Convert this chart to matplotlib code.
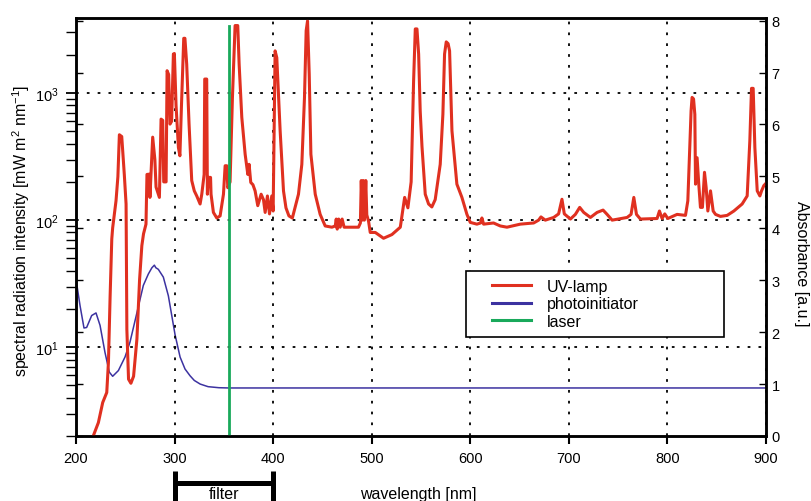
import numpy as np
import matplotlib
matplotlib.use("Agg")
import matplotlib.pyplot as plt
import matplotlib.transforms as mtransforms
from matplotlib.lines import Line2D
from matplotlib.legend_handler import HandlerLine2D
from matplotlib.ticker import MultipleLocator, LogLocator, NullFormatter, FuncFormatter

plt.rcParams['font.family'] = ['Liberation Sans', 'DejaVu Sans']
plt.rcParams['mathtext.fontset'] = 'custom'
plt.rcParams['mathtext.rm'] = 'Liberation Sans'

# data
# UV lamp spectrum: (wavelength nm, intensity mW m^2 nm^-1)
uv_lamp = [
    (217.5, 2.0), (222.7, 2.55), (227.1, 3.67), (231.2, 4.4), (232.9, 7.6),
    (234.6, 25), (236.3, 71), (237.2, 87), (240.6, 142), (242.5, 220),
    (244.0, 470), (246.4, 455), (249.0, 229), (250.8, 134), (251.6, 13.8),
    (253.3, 5.6), (255.7, 5.2), (258.4, 5.9), (261.8, 11.6), (264.5, 34),
    (266.8, 63), (268.5, 78), (271.0, 93), (272.0, 229), (274.4, 230),
    (275.0, 151), (277.8, 450), (280.0, 300), (281.2, 182), (284.6, 151),
    (286.3, 624), (288.0, 610), (289.0, 200), (291.4, 200), (292.4, 1500),
    (294.0, 1400), (295.4, 570), (297.0, 600), (298.8, 2030), (299.8, 2050),
    (301.5, 800), (303.9, 373), (305.4, 321), (307.0, 800), (309.3, 2700),
    (310.5, 2700), (312.3, 1690), (314.7, 570), (317.4, 205), (320.0, 170),
    (322.5, 155), (325.9, 134), (327.6, 160), (330.0, 229), (330.6, 1290),
    (332.6, 1290), (333.3, 160), (334.3, 217), (336.5, 217), (337.0, 160),
    (339.4, 115), (342.8, 104), (346.2, 108), (349.6, 160), (351.3, 268),
    (353.0, 268), (354.0, 180), (356.3, 200), (358.7, 925), (361.4, 3400),
    (364.1, 3400), (365.5, 1690), (368.2, 644), (371.6, 330), (374.3, 229),
    (375.6, 275), (377.3, 198), (379.5, 190), (381.7, 170), (384.4, 130),
    (387.8, 160), (390.2, 145), (391.9, 115), (394.2, 155), (396.3, 112),
    (398.6, 155), (400.0, 118), (402.0, 2150), (403.7, 1900), (407.1, 505),
    (410.5, 170), (413.0, 125), (416.0, 108), (419.5, 104), (425.7, 160),
    (429.1, 275), (431.8, 925), (433.5, 3100), (434.9, 3700), (436.6, 1410),
    (438.3, 330), (442.7, 160), (447.7, 111), (452.8, 90), (459.6, 88),
    (463.0, 90), (464.0, 102), (465.0, 85), (466.5, 102), (468.0, 88),
    (470.0, 102), (472.0, 88), (480.0, 88), (486.6, 88), (488.5, 95),
    (489.4, 205), (490.5, 100), (491.5, 205), (492.5, 100), (494.0, 205),
    (495.0, 110), (496.8, 98), (498.5, 80), (503.6, 80), (512.0, 72),
    (520.5, 77), (529.0, 88), (533.4, 151), (536.7, 125), (540.0, 200),
    (542.5, 1250), (544.2, 3200), (545.9, 3200), (547.6, 2030), (549.2, 720),
    (551.0, 380), (554.3, 160), (557.7, 134), (561.0, 127), (564.4, 145),
    (569.5, 275), (572.2, 680), (573.9, 2030), (575.6, 2530), (577.5, 2450),
    (579.0, 2150), (581.4, 505), (586.4, 192), (591.5, 151), (596.6, 111),
    (600.0, 96), (606.7, 93), (610.5, 95), (611.8, 104), (613.5, 93),
    (623.6, 95), (630.4, 90), (637.2, 88), (650.7, 93), (664.3, 95),
    (669.3, 100), (671.7, 106), (676.1, 100), (684.6, 105), (689.6, 112),
    (693.0, 146), (695.4, 112), (701.6, 102), (706.6, 111), (711.0, 126),
    (715.1, 115), (721.9, 105), (728.6, 115), (734.7, 120), (738.8, 111),
    (743.9, 100), (759.1, 105), (763.1, 111), (765.9, 151), (768.6, 111),
    (772.6, 102), (789.5, 103), (791.9, 118), (794.6, 103), (797.3, 112),
    (800.4, 103), (809.8, 111), (818.3, 109), (820.7, 142), (822.7, 373),
    (824.0, 725), (825.0, 925), (826.5, 900), (827.8, 680), (828.5, 192),
    (830.1, 310), (831.8, 192), (833.5, 126), (835.5, 126), (837.6, 238),
    (839.3, 180), (841.0, 118), (843.7, 170), (846.4, 118), (848.8, 111),
    (853.8, 107), (860.6, 109), (867.4, 118), (875.8, 134), (880.9, 155),
    (883.6, 422), (885.3, 1090), (887.0, 1090), (888.7, 373), (891.1, 170),
    (893.8, 155), (895.5, 170), (897.8, 187), (900.0, 195),
]

# photoinitiator absorbance: (wavelength nm, absorbance a.u.)
photoinitiator = [
    (200.0, 3.02), (204.1, 2.51), (208.1, 2.08), (210.8, 2.09), (215.9, 2.32),
    (220.3, 2.37), (224.4, 2.13), (229.4, 1.61), (233.8, 1.23), (237.2, 1.15),
    (243.0, 1.26), (249.7, 1.52), (254.8, 1.81), (261.5, 2.35), (268.3, 2.90),
    (273.4, 3.12), (277.0, 3.24), (279.5, 3.29), (281.0, 3.24), (283.5, 3.21),
    (288.6, 3.06), (293.7, 2.70), (300.5, 1.95), (305.6, 1.52), (310.6, 1.29),
    (315.7, 1.16), (320.0, 1.07), (326.0, 1.00), (334.0, 0.95), (345.0, 0.93),
    (355.0, 0.925), (900.0, 0.925),
]

laser_nm = 355
laser_int = [2.07, 3400]
filter_nm = [300, 400]

lamp_nm, lamp_int = zip(*uv_lamp)
pi_nm, pi_abs = zip(*photoinitiator)

red = '#e03020'
blue = '#3c32a0'
green = '#19a95b'

fig = plt.figure(figsize=(8.11, 5.02), dpi=100)
ax = fig.add_axes([76 / 811, 65 / 502, 690 / 811, 418 / 502])
ax2 = ax.twinx()
ax.set_zorder(ax2.get_zorder() + 1)
ax.patch.set_visible(False)

# curves
ax2.plot(pi_nm, pi_abs, color=blue, lw=1.1)
ax.plot(lamp_nm, lamp_int, color=red, lw=2.2)
ax.plot([laser_nm, laser_nm], laser_int, color=green, lw=2.0)

# left axis (log)
ax.set_yscale('log')
ax.set_ylim(2, 3900)
ax.set_xlim(200, 900)
ax.xaxis.set_major_locator(MultipleLocator(100))
ax.yaxis.set_major_locator(LogLocator(base=10, numticks=10))
ax.yaxis.set_minor_locator(LogLocator(base=10, subs=np.arange(2, 10), numticks=20))
ax.yaxis.set_minor_formatter(NullFormatter())
ax.yaxis.set_major_formatter(FuncFormatter(
    lambda v, p: r'$\mathregular{10^{%d}}$' % round(np.log10(v))))
ax.tick_params(axis='y', which='major', direction='out', length=7.5, width=1.3,
               labelsize=10.5, pad=5)
ax.tick_params(axis='y', which='minor', direction='out', length=7, width=1)
ax.tick_params(axis='x', direction='out', length=6, width=1.5, labelsize=10.5,
               pad=5, top=False)
ax.grid(True, which='major', color='black', linestyle=(0, (1.5, 4.5)), lw=1.3)

# right axis (absorbance)
ax2.set_ylim(0, 8.05)
ax2.yaxis.set_major_locator(MultipleLocator(1))
ax2.tick_params(axis='y', direction='in', left=True, right=True, labelleft=False,
                labelright=True, length=5, width=1, labelsize=10.5, pad=4)

for a in (ax, ax2):
    for s in a.spines.values():
        s.set_linewidth(1.8)

# labels
fig.text(21.5 / 811, 1 - 231 / 502,
         r'spectral radiation intensity [mW m$^{\mathregular{2}}$ nm$^{\mathregular{-1}}$]',
         rotation=90, ha='center', va='center', fontsize=11.5)
fig.text(801 / 811, 1 - 264 / 502, 'Absorbance [a.u.]', rotation=270,
         ha='center', va='center', fontsize=11.5)
fig.text(418 / 811, 1 - 487 / 502, 'wavelength [nm]', ha='center', va='top',
         fontsize=11.5)

# filter range bracket under the axis
trans = mtransforms.blended_transform_factory(ax.transData, ax.transAxes)
ax.plot(filter_nm, [-0.1124, -0.1124], transform=trans, clip_on=False,
        color='black', lw=3.6, solid_capstyle='butt')
ax.vlines(filter_nm, -0.165, -0.083, transform=trans, clip_on=False,
          colors='black', lw=3.6)
ax.text(np.mean(filter_nm), -0.119, 'filter', transform=trans, ha='center',
        va='top', fontsize=11.5)

# legend
def _leg_update(handle, orig):
    handle.update_from(orig)
    handle.set_linewidth(2.2)

handles = [Line2D([], [], color=red), Line2D([], [], color=blue),
           Line2D([], [], color=green)]
leg = ax.legend(handles, ['UV-lamp', 'photoinitiator', 'laser'],
                loc='upper left', bbox_to_anchor=(0.565, 0.242, 0.374, 0.153),
                mode='expand', borderaxespad=0, fontsize=11.5, fancybox=False,
                edgecolor='black', framealpha=1, handlelength=3.57,
                handletextpad=1.0, borderpad=0.5, labelspacing=0.16,
                handler_map={Line2D: HandlerLine2D(xpad=1.13, update_func=_leg_update)})
leg.get_frame().set_linewidth(1.2)

fig.savefig('out.png', dpi=100)
